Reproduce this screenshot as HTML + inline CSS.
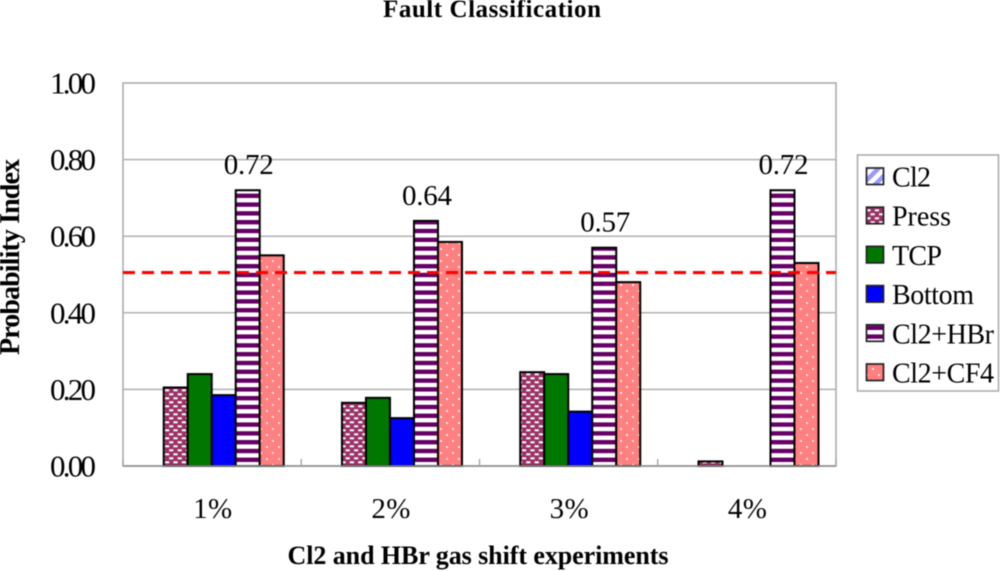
<!DOCTYPE html>
<html>
<head>
<meta charset="utf-8">
<style>
html,body{margin:0;padding:0;background:#fff;width:1000px;height:571px;overflow:hidden}
svg{display:block;font-family:"Liberation Serif",serif;filter:blur(0.4px)}
</style>
</head>
<body>
<svg id="chart" width="1000" height="571" viewBox="0 0 1000 571" xmlns="http://www.w3.org/2000/svg">
<defs>
<pattern id="p-cl2" width="9" height="9" patternUnits="userSpaceOnUse" patternTransform="rotate(45)"><rect width="9" height="9" fill="#fff"/><rect width="4.5" height="9" fill="#9999ff"/></pattern>
<pattern id="p-press" width="8.4" height="8" patternUnits="userSpaceOnUse"><rect width="8.4" height="8" fill="#993366"/><rect x="1.2" y="1.3" width="4.2" height="2" fill="#fff"/><rect x="5.4" y="5.3" width="4.2" height="2" fill="#fff"/><rect x="-3" y="5.3" width="4.2" height="2" fill="#fff"/></pattern>
<pattern id="p-hbr" width="8.8" height="8.8" patternUnits="userSpaceOnUse"><rect width="8.8" height="8.8" fill="#fff"/><rect y="0" width="8.8" height="4.4" fill="#660066"/></pattern>
<pattern id="p-cf4" width="12" height="12" patternUnits="userSpaceOnUse"><rect width="12" height="12" fill="#ff8080"/><circle cx="3" cy="3" r="1" fill="#fff"/><circle cx="9" cy="9" r="1" fill="#fff"/></pattern>
</defs>
<text x="492" y="17" text-anchor="middle" font-size="25" font-weight="bold" textLength="218">Fault Classification</text>
<text transform="translate(19,257) rotate(-90)" text-anchor="middle" font-size="28" font-weight="bold" textLength="196">Probability Index</text>
<text x="478" y="564" text-anchor="middle" font-size="26" font-weight="bold" textLength="381">Cl2 and HBr gas shift experiments</text>
<g id="grid"></g>
<g id="bars"></g>
<g id="axes"></g>
<g id="labels"></g>
<g id="legend"></g>
</svg>
<script>
var categories = ['1%', '2%', '3%', '4%'];
var yTicks = [0, 0.2, 0.4, 0.6, 0.8, 1.0];
var seriesNames = ['Cl2', 'Press', 'TCP', 'Bottom', 'Cl2+HBr', 'Cl2+CF4'];
var cl2Values = [0, 0, 0, 0];
var pressValues = [0.205, 0.165, 0.245, 0.012];
var tcpValues = [0.24, 0.178, 0.24, 0];
var bottomValues = [0.185, 0.125, 0.142, 0];
var hbrValues = [0.72, 0.64, 0.57, 0.72];
var cf4Values = [0.55, 0.585, 0.48, 0.53];
var thresholdValue = 0.505;

var seriesValues = [cl2Values, pressValues, tcpValues, bottomValues, hbrValues, cf4Values];
var fills = ['url(#p-cl2)', 'url(#p-press)', '#007700', '#0000ff', 'url(#p-hbr)', 'url(#p-cf4)'];
var NS = 'http://www.w3.org/2000/svg';
var L = 123, R = 836, T = 83, B = 466;
function yScale(v) { return B - v * (B - T); }
function xBand(i) { return L + i * (R - L) / categories.length; }
function mk(tag, attrs, parent, text) {
  var el = document.createElementNS(NS, tag);
  for (var k in attrs) el.setAttribute(k, attrs[k]);
  if (text !== undefined) el.textContent = text;
  parent.appendChild(el);
  return el;
}
var gGrid = document.getElementById('grid');
var gBars = document.getElementById('bars');
var gAxes = document.getElementById('axes');
var gLabels = document.getElementById('labels');
var gLegend = document.getElementById('legend');

var plotBg = mk('rect', {x: L, y: T, width: R - L, height: B - T, fill: '#fff', stroke: '#a8a8a8', 'stroke-width': 1.5}, gGrid);



yTicks.forEach(function (t) {
  if (t > 0 && t < 1) {
    var gl = mk('line', {x1: L, x2: R, y1: yScale(t), y2: yScale(t), stroke: '#b0b0b0', 'stroke-width': 1.5}, gGrid);
    
    
  }
  var tl = mk('text', {x: 96, y: yScale(t) + 10.5, 'text-anchor': 'end', 'font-size': 31, textLength: 46}, gLabels, t.toFixed(2));
  
  
});

var barW = 24;
categories.forEach(function (c, i) {
  var x0 = xBand(i) + ((R - L) / categories.length - barW * seriesValues.length) / 2 - 0.4;
  seriesValues.forEach(function (vals, s) {
    var v = vals[i];
    var r = mk('rect', {
      x: x0 + s * barW, y: yScale(v), width: barW, height: B - yScale(v),
      fill: fills[s], stroke: v > 0 ? '#000' : 'none', 'stroke-width': 2
    }, gBars);
    
    
  });
  var top = hbrValues[i];
  var vl = mk('text', {x: x0 + 4.5 * barW + 1, y: yScale(top) - 16, 'text-anchor': 'middle', 'font-size': 29, textLength: 50}, gLabels, top.toFixed(2));
  
  
  var xl = mk('text', {x: xBand(i) + (R - L) / categories.length / 2 + 0.5, y: 518, 'text-anchor': 'middle', 'font-size': 29, textLength: 39}, gLabels, c);
  
  
});

var axis = mk('line', {x1: L, x2: R, y1: B, y2: B, stroke: '#8a8a8a', 'stroke-width': 1.5}, gAxes);


for (var i = 0; i <= categories.length; i++) {
  var tk = mk('line', {x1: xBand(i), x2: xBand(i), y1: B, y2: B - 7, stroke: '#a0a0a0', 'stroke-width': 1.3}, gAxes);
  
  
}

var threshold = mk('line', {x1: L, x2: R, y1: yScale(thresholdValue), y2: yScale(thresholdValue), stroke: '#ff0000', 'stroke-width': 3.2, 'stroke-dasharray': '12 7'}, gAxes);



var box = mk('rect', {x: 857.5, y: 155, width: 141, height: 236, fill: '#fff', stroke: '#a8a8a8', 'stroke-width': 1.5}, gLegend);


var legendWidths = [39, 59, 50, 82, 102, 102];
seriesNames.forEach(function (n, s) {
  var cy = 176.5 + s * 39.2;
  var sw = mk('rect', {x: 866.5, y: cy - 8.5, width: 17, height: 16.5, fill: fills[s], stroke: '#222', 'stroke-width': 1.7}, gLegend);
  
  
  var lt = mk('text', {x: 892, y: cy + 10, 'font-size': 28, textLength: legendWidths[s]}, gLegend, n);
  
  
});
</script>
</body>
</html>
